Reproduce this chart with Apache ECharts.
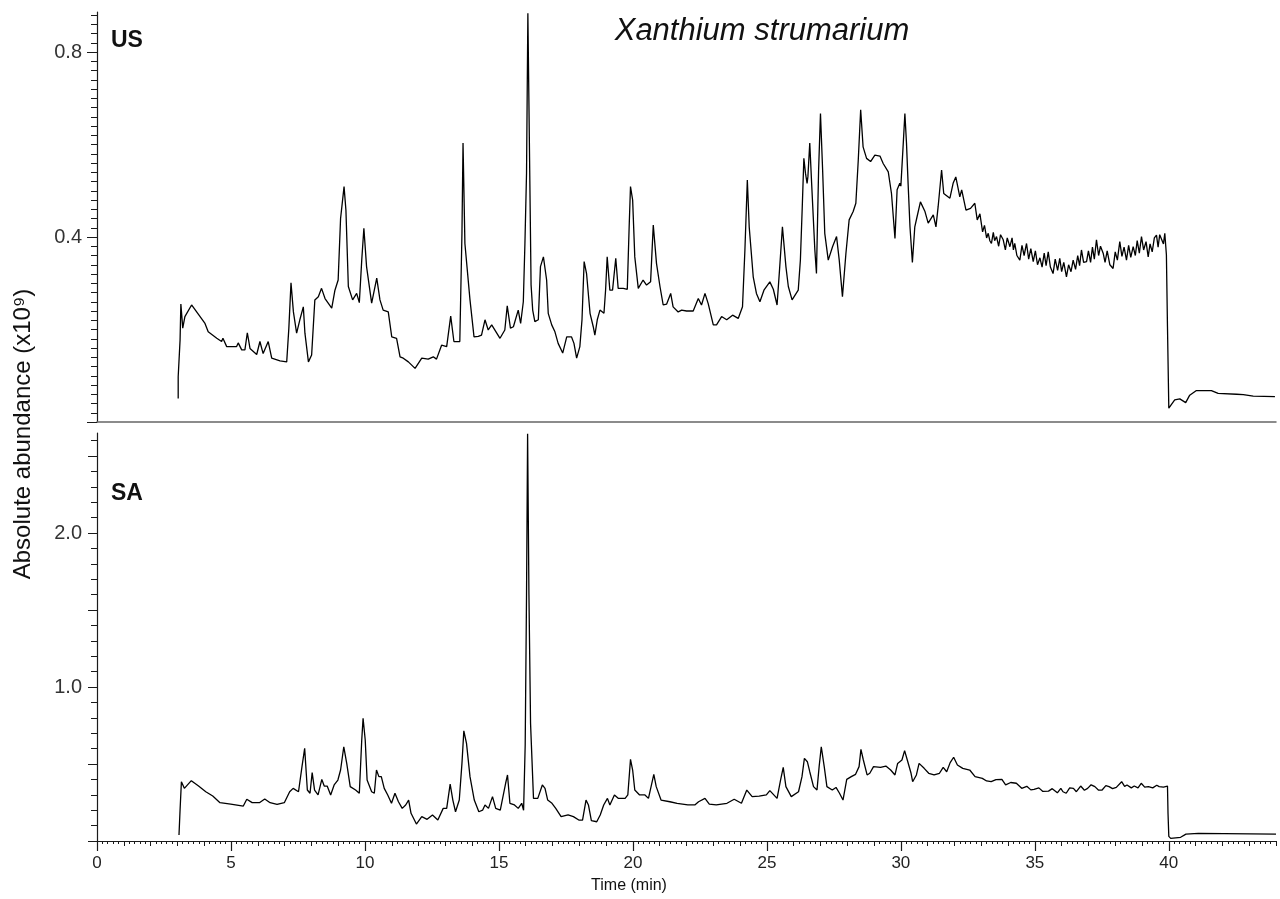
<!DOCTYPE html>
<html><head><meta charset="utf-8">
<script src="https://cdn.jsdelivr.net/npm/echarts@6/dist/echarts.min.js"></script>
<style>html,body{margin:0;padding:0;background:#fff}#c{width:1280px;height:899px}</style>
</head><body><div id="c"></div>
<script>
// ---- DATA (time in min, absolute abundance in x10^9) ----
const usPoints = [
[3.03,0.051],[3.03,0.098],[3.10,0.177],[3.13,0.255],[3.20,0.203],[3.28,0.228],[3.53,0.253],[3.78,0.233],[4.03,0.213],[4.15,0.195],[4.47,0.181],[4.65,0.174],[4.70,0.181],[4.84,0.163],[5.21,0.163],[5.27,0.171],[5.40,0.156],[5.52,0.156],[5.61,0.193],[5.71,0.159],[5.96,0.146],[6.08,0.174],[6.20,0.148],[6.39,0.174],[6.52,0.138],[6.83,0.132],[7.08,0.130],[7.16,0.203],[7.24,0.301],[7.33,0.238],[7.45,0.192],[7.57,0.221],[7.70,0.249],[7.76,0.192],[7.89,0.130],[8.01,0.145],[8.13,0.264],[8.26,0.271],[8.38,0.289],[8.51,0.267],[8.76,0.246],[8.88,0.285],[9.00,0.307],[9.09,0.440],[9.22,0.509],[9.29,0.458],[9.38,0.293],[9.54,0.264],[9.69,0.278],[9.79,0.258],[9.88,0.350],[9.96,0.419],[10.06,0.336],[10.25,0.257],[10.44,0.311],[10.56,0.264],[10.68,0.242],[10.87,0.238],[11.00,0.184],[11.18,0.181],[11.31,0.141],[11.43,0.138],[11.62,0.130],[11.87,0.116],[12.12,0.138],[12.36,0.136],[12.55,0.141],[12.67,0.136],[12.86,0.166],[13.05,0.163],[13.20,0.229],[13.32,0.174],[13.54,0.174],[13.62,0.408],[13.66,0.603],[13.73,0.386],[13.92,0.264],[14.07,0.184],[14.23,0.185],[14.35,0.188],[14.48,0.221],[14.60,0.199],[14.73,0.210],[15.04,0.181],[15.22,0.199],[15.31,0.251],[15.43,0.203],[15.54,0.206],[15.72,0.242],[15.81,0.213],[15.91,0.260],[15.97,0.386],[16.03,0.538],[16.08,0.884],[16.15,0.538],[16.20,0.296],[16.26,0.242],[16.34,0.217],[16.47,0.221],[16.55,0.336],[16.66,0.357],[16.78,0.307],[16.84,0.235],[16.97,0.210],[17.09,0.195],[17.21,0.170],[17.38,0.149],[17.53,0.184],[17.71,0.184],[17.80,0.170],[17.90,0.138],[18.02,0.163],[18.10,0.221],[18.18,0.347],[18.27,0.321],[18.40,0.235],[18.52,0.206],[18.58,0.188],[18.67,0.221],[18.77,0.242],[18.92,0.235],[18.98,0.285],[19.04,0.357],[19.14,0.285],[19.24,0.285],[19.36,0.354],[19.45,0.289],[19.64,0.289],[19.79,0.287],[19.86,0.422],[19.91,0.509],[19.99,0.480],[20.07,0.357],[20.20,0.289],[20.38,0.307],[20.51,0.296],[20.66,0.303],[20.76,0.426],[20.88,0.343],[21.01,0.293],[21.13,0.253],[21.26,0.255],[21.41,0.278],[21.50,0.249],[21.69,0.238],[21.82,0.242],[22.00,0.240],[22.25,0.240],[22.44,0.267],[22.56,0.253],[22.69,0.278],[22.81,0.256],[23.00,0.210],[23.12,0.210],[23.31,0.228],[23.50,0.221],[23.72,0.231],[23.93,0.224],[24.09,0.249],[24.18,0.372],[24.27,0.523],[24.34,0.422],[24.49,0.314],[24.61,0.278],[24.74,0.260],[24.89,0.285],[25.11,0.303],[25.24,0.287],[25.38,0.253],[25.48,0.336],[25.58,0.422],[25.71,0.336],[25.80,0.293],[25.94,0.264],[26.17,0.285],[26.25,0.350],[26.32,0.465],[26.38,0.570],[26.44,0.538],[26.50,0.516],[26.53,0.530],[26.60,0.603],[26.67,0.516],[26.79,0.372],[26.85,0.321],[26.93,0.545],[27.00,0.667],[27.08,0.545],[27.16,0.408],[27.29,0.350],[27.45,0.379],[27.60,0.401],[27.70,0.350],[27.82,0.271],[27.95,0.365],[28.07,0.437],[28.22,0.455],[28.32,0.473],[28.41,0.566],[28.50,0.675],[28.59,0.595],[28.72,0.570],[28.87,0.563],[29.03,0.577],[29.22,0.575],[29.34,0.559],[29.53,0.541],[29.65,0.494],[29.78,0.397],[29.86,0.502],[29.96,0.516],[30.00,0.510],[30.09,0.603],[30.15,0.667],[30.21,0.603],[30.27,0.516],[30.34,0.422],[30.43,0.345],[30.52,0.422],[30.59,0.440],[30.73,0.476],[30.90,0.455],[31.02,0.430],[31.21,0.448],[31.31,0.422],[31.39,0.465],[31.52,0.545],[31.60,0.494],[31.83,0.484],[31.95,0.516],[32.05,0.530],[32.20,0.487],[32.27,0.502],[32.43,0.458],[32.60,0.462],[32.76,0.473],
[32.85,0.437],[32.95,0.450],[33.05,0.411],[33.12,0.425],[33.20,0.398],[33.26,0.408],[33.32,0.392],[33.38,0.386],[33.45,0.410],[33.50,0.392],[33.57,0.401],[33.65,0.380],[33.72,0.405],[33.82,0.394],[33.90,0.372],[33.97,0.398],[34.07,0.379],[34.15,0.398],[34.20,0.372],[34.25,0.386],[34.33,0.360],[34.44,0.350],[34.52,0.382],[34.60,0.360],[34.69,0.386],[34.77,0.352],[34.85,0.375],[34.94,0.347],[35.02,0.370],[35.10,0.340],[35.19,0.355],[35.27,0.335],[35.35,0.365],[35.42,0.338],[35.50,0.368],[35.58,0.335],[35.68,0.321],[35.76,0.352],[35.85,0.328],[35.93,0.354],[36.00,0.325],[36.08,0.345],[36.18,0.314],[36.26,0.340],[36.35,0.325],[36.43,0.350],[36.52,0.330],[36.60,0.360],[36.67,0.338],[36.74,0.372],[36.82,0.345],[36.93,0.347],[37.00,0.370],[37.08,0.345],[37.15,0.378],[37.22,0.352],[37.30,0.394],[37.38,0.360],[37.45,0.380],[37.55,0.365],[37.62,0.345],[37.70,0.370],[37.80,0.340],[37.92,0.332],[38.00,0.368],[38.08,0.350],[38.17,0.390],[38.25,0.358],[38.33,0.378],[38.42,0.350],[38.50,0.382],[38.58,0.356],[38.67,0.379],[38.75,0.360],[38.82,0.392],[38.90,0.365],[38.98,0.401],[39.06,0.372],[39.15,0.390],[39.23,0.357],[39.30,0.385],[39.38,0.368],[39.46,0.398],[39.54,0.404],[39.60,0.378],[39.66,0.405],[39.73,0.401],[39.80,0.385],[39.85,0.408],[39.91,0.361],[39.95,0.206],[40.00,0.030],[40.22,0.048],[40.41,0.050],[40.63,0.042],[40.78,0.058],[41.03,0.068],[41.59,0.068],[41.84,0.062],[42.53,0.060],[42.78,0.059],[43.15,0.056],[43.96,0.055]
];
const saPoints = [
[3.06,0.039],[3.10,0.201],[3.15,0.385],[3.26,0.342],[3.52,0.392],[3.79,0.357],[4.06,0.320],[4.32,0.292],[4.59,0.249],[4.99,0.240],[5.46,0.227],[5.59,0.271],[5.79,0.249],[6.06,0.249],[6.26,0.273],[6.46,0.249],[6.72,0.238],[6.99,0.249],[7.19,0.320],[7.32,0.342],[7.52,0.320],[7.65,0.483],[7.75,0.602],[7.85,0.331],[7.95,0.310],[8.03,0.444],[8.12,0.331],[8.25,0.299],[8.39,0.400],[8.48,0.357],[8.59,0.357],[8.72,0.299],[8.85,0.364],[8.99,0.396],[9.09,0.461],[9.21,0.612],[9.32,0.504],[9.45,0.353],[9.65,0.331],[9.79,0.310],[9.88,0.656],[9.93,0.797],[10.01,0.656],[10.08,0.396],[10.25,0.320],[10.35,0.310],[10.43,0.461],[10.52,0.418],[10.61,0.418],[10.72,0.342],[10.85,0.299],[10.99,0.245],[11.12,0.310],[11.25,0.255],[11.39,0.212],[11.52,0.234],[11.63,0.266],[11.72,0.180],[11.92,0.110],[12.12,0.158],[12.32,0.141],[12.52,0.169],[12.72,0.136],[12.92,0.212],[13.05,0.212],[13.18,0.370],[13.28,0.266],[13.38,0.190],[13.52,0.266],[13.62,0.504],[13.69,0.716],[13.79,0.634],[13.92,0.418],[14.08,0.266],[14.25,0.190],[14.39,0.200],[14.48,0.234],[14.61,0.212],[14.76,0.288],[14.88,0.212],[15.05,0.201],[15.25,0.375],[15.32,0.429],[15.41,0.245],[15.58,0.234],[15.72,0.212],[15.85,0.245],[15.92,0.200],[15.98,0.623],[16.03,1.600],[16.07,2.645],[16.12,1.600],[16.18,0.764],[16.29,0.277],[16.45,0.277],[16.62,0.364],[16.72,0.342],[16.82,0.266],[16.98,0.245],[17.12,0.212],[17.32,0.158],[17.58,0.169],[17.78,0.158],[17.98,0.136],[18.12,0.136],[18.25,0.266],[18.34,0.234],[18.45,0.132],[18.65,0.125],[18.78,0.169],[18.91,0.234],[19.05,0.277],[19.14,0.234],[19.31,0.299],[19.45,0.277],[19.71,0.277],[19.81,0.299],[19.91,0.530],[19.99,0.461],[20.07,0.331],[20.25,0.299],[20.45,0.299],[20.58,0.277],[20.78,0.433],[20.87,0.353],[21.05,0.266],[21.38,0.255],[21.65,0.245],[22.05,0.234],[22.31,0.234],[22.45,0.255],[22.69,0.277],[22.85,0.240],[23.11,0.234],[23.51,0.245],[23.78,0.271],[24.05,0.245],[24.25,0.331],[24.45,0.288],[24.71,0.292],[24.98,0.299],[25.11,0.327],[25.38,0.277],[25.51,0.396],[25.61,0.478],[25.71,0.353],[25.91,0.288],[26.18,0.320],[26.31,0.418],[26.40,0.537],[26.51,0.515],[26.60,0.450],[26.74,0.353],[26.87,0.331],[26.95,0.483],[27.03,0.612],[27.14,0.483],[27.24,0.353],[27.44,0.331],[27.58,0.348],[27.71,0.310],[27.84,0.266],[27.98,0.400],[28.15,0.418],[28.31,0.433],[28.44,0.483],[28.51,0.595],[28.60,0.526],[28.74,0.429],[28.84,0.440],[28.98,0.483],[29.24,0.478],[29.44,0.487],[29.62,0.461],[29.78,0.429],[29.88,0.504],[30.04,0.526],[30.14,0.587],[30.24,0.526],[30.38,0.440],[30.44,0.385],[30.58,0.429],[30.68,0.504],[30.87,0.472],[31.04,0.440],[31.24,0.429],[31.44,0.440],[31.58,0.478],[31.71,0.450],[31.84,0.509],[31.97,0.544],[32.11,0.494],[32.31,0.472],[32.57,0.461],[32.77,0.418],
[33.04,0.407],[33.20,0.390],[33.37,0.385],[33.55,0.398],[33.77,0.400],[33.91,0.364],[34.10,0.380],[34.31,0.375],[34.51,0.342],[34.70,0.355],[34.85,0.332],[34.97,0.335],[35.15,0.345],[35.30,0.322],[35.51,0.324],[35.65,0.340],[35.84,0.313],[35.97,0.342],[36.05,0.320],[36.17,0.310],[36.30,0.345],[36.44,0.342],[36.55,0.320],[36.71,0.357],[36.85,0.330],[36.97,0.342],[37.10,0.365],[37.24,0.353],[37.38,0.330],[37.51,0.331],[37.65,0.360],[37.77,0.353],[37.90,0.340],[38.04,0.348],[38.24,0.385],[38.35,0.355],[38.44,0.364],[38.60,0.345],[38.71,0.357],[38.85,0.345],[38.97,0.375],[39.10,0.350],[39.24,0.353],[39.40,0.345],[39.55,0.362],[39.64,0.353],[39.80,0.350],[39.95,0.357],[39.97,0.180],[40.00,0.030],[40.07,0.017],[40.44,0.024],[40.64,0.045],[41.10,0.050],[44.00,0.045]
];
const usLabelValues = [0.4, 0.8];
const saLabelValues = [1.0, 2.0];
const usMajorTicks = [0, 0.4, 0.8];
const saMajorTicks = [0, 0.5, 1.0, 1.5, 2.0, 2.5];
const timeLabelValues = [0, 5, 10, 15, 20, 25, 30, 35, 40];
const usMinorTicks = []; for (let i = 0; i <= 44; i++) usMinorTicks.push(+(i * 0.02).toFixed(2));
const saMinorTicks = []; for (let i = 0; i <= 26; i++) saMinorTicks.push(+(i * 0.1).toFixed(1));
const titleText = 'Xanthium strumarium';
const panelLabels = ['US', 'SA'];
const yName = 'Absolute abundance (x10\u2079)';
const xName = 'Time (min)';

const FONT = '"Liberation Sans", Arial, sans-serif';
const AX = '#1a1a1a';
const chart = echarts.init(document.getElementById('c'), null, {renderer: 'canvas'});
const G0 = {left: 97, right: 4, top: 12, height: 410};
const G1 = {left: 97, right: 4, top: 433, height: 408};
const option = {
  animation: false,
  backgroundColor: '#ffffff',
  grid: [G0, G1, G0, G1],
  xAxis: [
    {gridIndex: 0, type: 'value', min: 0, max: 44, axisLine: {show: true, lineStyle: {color: '#666', width: 1.5}}, axisTick: {show: false}, axisLabel: {show: false}, splitLine: {show: false}},
    {gridIndex: 1, type: 'value', min: 0, max: 44, interval: 1, axisLine: {show: true, lineStyle: {color: AX, width: 1.2}}, axisTick: {show: true, length: 5, lineStyle: {color: AX, width: 1}}, minorTick: {show: true, splitNumber: 5, length: 3, lineStyle: {color: AX, width: 1}}, axisLabel: {show: false}, splitLine: {show: false}, minorSplitLine: {show: false}},
    {gridIndex: 2, type: 'value', min: 0, max: 44, show: false},
    {gridIndex: 3, type: 'value', min: 0, max: 44, axisLine: {show: false}, axisTick: {show: true, length: 10, customValues: timeLabelValues, lineStyle: {color: AX, width: 1.2}}, axisLabel: {show: true, customValues: timeLabelValues, fontSize: 17, color: '#222', margin: 14, fontFamily: FONT}, splitLine: {show: false}}
  ],
  yAxis: [
    {gridIndex: 0, type: 'value', min: 0, max: 0.8865, axisLine: {show: true, lineStyle: {color: AX, width: 1.2}}, axisTick: {show: true, length: 6, customValues: usMinorTicks, lineStyle: {color: AX}}, axisLabel: {show: false}, splitLine: {show: false}},
    {gridIndex: 1, type: 'value', min: 0, max: 2.65, axisLine: {show: true, lineStyle: {color: AX, width: 1.2}}, axisTick: {show: true, length: 6, customValues: saMinorTicks, lineStyle: {color: AX}}, axisLabel: {show: false}, splitLine: {show: false}},
    {gridIndex: 2, type: 'value', min: 0, max: 0.8865, axisLine: {show: false}, axisTick: {show: true, length: 10, customValues: usMajorTicks, lineStyle: {color: AX}}, axisLabel: {show: true, customValues: usLabelValues, formatter: v => Number(v).toFixed(1), fontSize: 20, color: '#333', margin: 15, fontFamily: FONT}, splitLine: {show: false}},
    {gridIndex: 3, type: 'value', min: 0, max: 2.65, axisLine: {show: false}, axisTick: {show: true, length: 9, customValues: saMajorTicks, lineStyle: {color: AX}}, axisLabel: {show: true, customValues: saLabelValues, formatter: v => Number(v).toFixed(1), fontSize: 20, color: '#333', margin: 15, fontFamily: FONT}, splitLine: {show: false}}
  ],
  series: [
    {type: 'line', xAxisIndex: 0, yAxisIndex: 0, data: usPoints, symbol: 'none', showSymbol: false, silent: true, lineStyle: {color: '#000', width: 1.3}},
    {type: 'line', xAxisIndex: 1, yAxisIndex: 1, data: saPoints, symbol: 'none', showSymbol: false, silent: true, lineStyle: {color: '#000', width: 1.3}}
  ],
  graphic: [
    {type: 'text', x: 762, y: 31, silent: true, style: {text: titleText, font: 'italic 31px ' + FONT, fill: '#111', align: 'center', verticalAlign: 'middle'}},
    {type: 'text', x: 111, y: 41, silent: true, style: {text: panelLabels[0], font: 'bold 23px ' + FONT, fill: '#111', align: 'left', verticalAlign: 'middle'}},
    {type: 'text', x: 111, y: 494, silent: true, style: {text: panelLabels[1], font: 'bold 23px ' + FONT, fill: '#111', align: 'left', verticalAlign: 'middle'}},
    {type: 'text', x: 23, y: 434, rotation: Math.PI / 2, silent: true, style: {text: yName, font: '24px ' + FONT, fill: '#111', align: 'center', verticalAlign: 'middle'}},
    {type: 'text', x: 629, y: 886, silent: true, style: {text: xName, font: '16px ' + FONT, fill: '#111', align: 'center', verticalAlign: 'middle'}}
  ]
};
chart.setOption(option);
</script></body></html>
